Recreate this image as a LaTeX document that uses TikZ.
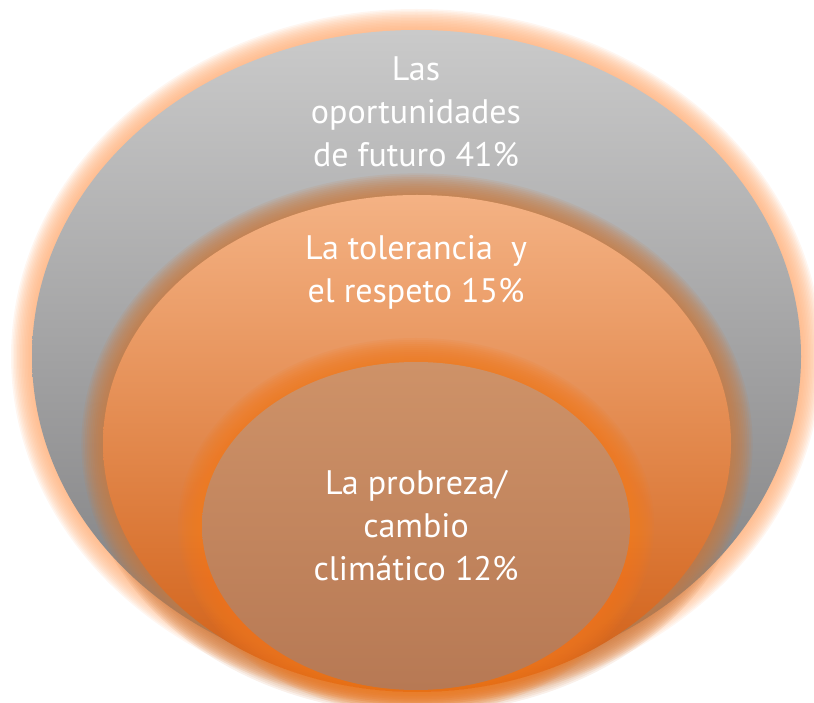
\documentclass[tikz,border=0pt]{standalone}
\usepackage{fontspec}
\setmainfont{PT Sans}
\usepackage{xcolor}
\usepackage{tikz}
\usetikzlibrary{positioning,calc}
\definecolor{grayhi}{RGB}{202,202,202}
\definecolor{graymid}{RGB}{168,168,168}
\definecolor{graylo}{RGB}{122,122,124}
\definecolor{peach}{RGB}{255,176,122}
\definecolor{orhi}{RGB}{244,178,132}
\definecolor{ormid}{RGB}{239,140,70}
\definecolor{orlo}{RGB}{208,94,20}
\definecolor{orrim}{RGB}{205,122,62}
\definecolor{brhi}{RGB}{206,146,104}
\definecolor{brlo}{RGB}{183,121,84}
\definecolor{brrim}{RGB}{244,122,30}
\tikzset{
  lbl/.style={align=center,text=white,font=\fontsize{34}{43}\selectfont},
  halo/.style={fill=#1,opacity=0.11},
}

\begin{document}
\begin{tikzpicture}[x=1pt,y=1pt]
  \useasboundingbox (0,0) rectangle (814,702);
  \coordinate (cout) at (416.5,345.5);
  \coordinate (cmid) at (417,258.5);
  \coordinate (cin) at (416,176);
  % outer ring
  \foreach \k in {1,...,14}
    {\fill[halo=peach] (cout) ellipse [x radius={384.5+1.5*\k}, y radius={326.5+1.5*\k}];}
  \shade[top color=grayhi,middle color=graymid,bottom color=graylo]
    (cout) ellipse [x radius=384.5, y radius=326.5];
  % middle ring
  \foreach \k in {1,...,12}
    {\fill[halo=orrim] (cmid) ellipse [x radius={314+1.8*\k}, y radius={248.5+1.8*\k}];}
  \shade[top color=orhi,middle color=ormid,bottom color=orlo]
    (cmid) ellipse [x radius=314, y radius=248.5];
  % inner ring
  \foreach \k in {1,...,12}
    {\fill[halo=brrim] (cin) ellipse [x radius={214+2*\k}, y radius={164+2*\k}];}
  \shade[top color=brhi,bottom color=brlo]
    (cin) ellipse [x radius=214, y radius=164];
  \node[lbl] (futuro) at (416,590) {Las\\oportunidades\\de futuro 41\%};
  \node[lbl] (respeto) at (416,430) {La tolerancia\ \ y\\el respeto 15\%};
  \node[lbl] (pobreza) at (416,176) {La probreza/\\cambio\\climático 12\%};
\end{tikzpicture}
\end{document}
